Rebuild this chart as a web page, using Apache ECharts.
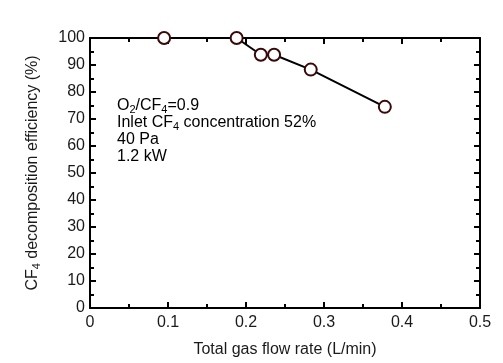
<!DOCTYPE html>
<html><head><meta charset="utf-8">
<script src="https://cdn.jsdelivr.net/npm/echarts@6/dist/echarts.min.js"></script>
<style>html,body{margin:0;padding:0;background:#fff}#c{width:503px;height:363px}</style>
</head><body><div id="c"></div>
<script>
// Data
const flowRate   = [0.095, 0.188, 0.219, 0.236, 0.283, 0.378]; // L/min
const efficiency = [100, 100, 93.8, 93.8, 88.3, 74.5];        // %
const connectedFrom = 1; // line joins points from this index on
const xTicks = [0, 0.1, 0.2, 0.3, 0.4, 0.5];
const yTicks = [0, 10, 20, 30, 40, 50, 60, 70, 80, 90, 100];

const FONT = '"Liberation Sans", Arial, sans-serif';
const TXT = '#1a1a1a';
const chart = echarts.init(document.getElementById('c'), null, {renderer: 'canvas'});
const pts = flowRate.map((x, i) => [x, efficiency[i]]);
const markerStyle = {color: '#fff', borderColor: '#3a0808', borderWidth: 2, opacity: 1};

const axisCommon = (min, max, interval) => ({
  type: 'value', min, max, interval,
  axisLine: {show: true, onZero: false, lineStyle: {color: '#000', width: 2}},
  axisTick: {show: true, inside: true, length: 6, lineStyle: {color: '#000', width: 2}},
  minorTick: {show: true, splitNumber: 2, length: 4, lineStyle: {color: '#000', width: 2}},
  splitLine: {show: false}
});

const sub = {fontSize: 11, fontFamily: FONT, color: TXT, padding: [8, 0, 0, 0]};
const norm = {fontSize: 16, fontFamily: FONT, color: TXT};

chart.setOption({
  animation: false,
  grid: {left: 90, right: 23, top: 38, bottom: 52},
  xAxis: [
    Object.assign(axisCommon(xTicks[0], xTicks[xTicks.length-1], 0.1), {
      position: 'bottom',
      axisLabel: {color: TXT, fontSize: 16, fontFamily: FONT, margin: 7,
        formatter: v => String(+v.toFixed(1))},
      name: 'Total gas flow rate (L/min)', nameLocation: 'middle', nameGap: 34,
      nameTextStyle: {color: TXT, fontSize: 16, fontFamily: FONT}
    }),
    Object.assign(axisCommon(xTicks[0], xTicks[xTicks.length-1], 0.1), {
      position: 'top', axisLabel: {show: false}
    })
  ],
  yAxis: [
    Object.assign(axisCommon(yTicks[0], yTicks[yTicks.length-1], 10), {
      position: 'left',
      axisLabel: {color: TXT, fontSize: 16, fontFamily: FONT, margin: 5},
      name: '{n|CF}{s|4}{n| decomposition efficiency (%)}', nameLocation: 'middle', nameGap: 48,
      nameTextStyle: {color: TXT, fontSize: 16, fontFamily: FONT, rich: {n: norm, s: sub}}
    }),
    Object.assign(axisCommon(yTicks[0], yTicks[yTicks.length-1], 10), {
      position: 'right', axisLabel: {show: false}
    })
  ],
  series: [
    {type: 'line', data: pts.slice(connectedFrom), symbol: 'none',
     lineStyle: {color: '#000', width: 2}, z: 2},
    {type: 'scatter', data: pts, symbol: 'circle', symbolSize: 12,
     itemStyle: markerStyle, z: 3}
  ],
  graphic: [{
    type: 'text', left: 117, top: 96,
    style: {
      text: '{n|O}{s|2}{n|/CF}{s|4}{n|=0.9}\n{n|Inlet CF}{s|4}{n| concentration 52%}\n{n|40 Pa}\n{n|1.2 kW}',
      rich: {n: Object.assign({}, norm, {lineHeight: 17}), s: Object.assign({}, sub, {lineHeight: 17})}
    }
  }]
});
</script></body></html>
